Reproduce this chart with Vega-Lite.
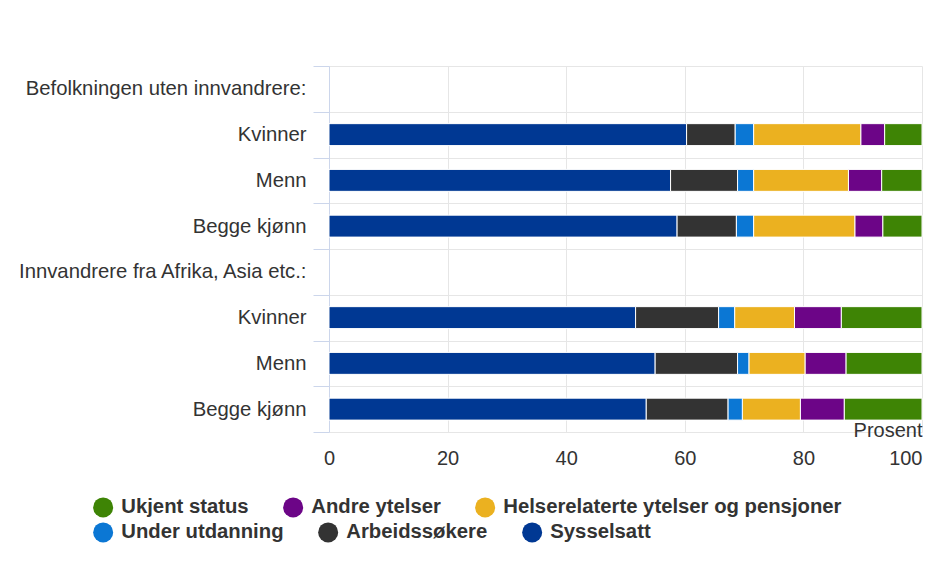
{
  "$schema": "https://vega.github.io/schema/vega-lite/v6.json",
  "autosize": {"type": "none"},
  "padding": {"left": 329, "top": 66, "right": 16, "bottom": 130},
  "width": 593,
  "height": 366,
  "config": {
    "view": {"stroke": null},
    "font": "Liberation Sans",
    "legend": {
      "orient": "none",
      "direction": "horizontal",
      "title": null,
      "columnPadding": 34,
      "padding": 0,
      "symbolType": "circle",
      "symbolSize": 400,
      "symbolStrokeWidth": 0,
      "symbolOpacity": 1,
      "labelFontSize": 20.3,
      "labelFontWeight": "bold",
      "labelColor": "#333333",
      "labelOffset": 8,
      "labelLimit": 500
    }
  },
  "data": {
    "values": [
      {"rad": "2|Kvinner", "status": "Sysselsatt", "rekke": 1, "verdi": 60.3},
      {"rad": "2|Kvinner", "status": "Arbeidssøkere", "rekke": 2, "verdi": 8.2},
      {"rad": "2|Kvinner", "status": "Under utdanning", "rekke": 3, "verdi": 3.1},
      {"rad": "2|Kvinner", "status": "Helserelaterte ytelser og pensjoner", "rekke": 4, "verdi": 18.1},
      {"rad": "2|Kvinner", "status": "Andre ytelser", "rekke": 5, "verdi": 4.0},
      {"rad": "2|Kvinner", "status": "Ukjent status", "rekke": 6, "verdi": 6.3},
      {"rad": "3|Menn", "status": "Sysselsatt", "rekke": 1, "verdi": 57.6},
      {"rad": "3|Menn", "status": "Arbeidssøkere", "rekke": 2, "verdi": 11.3},
      {"rad": "3|Menn", "status": "Under utdanning", "rekke": 3, "verdi": 2.7},
      {"rad": "3|Menn", "status": "Helserelaterte ytelser og pensjoner", "rekke": 4, "verdi": 16.0},
      {"rad": "3|Menn", "status": "Andre ytelser", "rekke": 5, "verdi": 5.6},
      {"rad": "3|Menn", "status": "Ukjent status", "rekke": 6, "verdi": 6.8},
      {"rad": "4|Begge kjønn", "status": "Sysselsatt", "rekke": 1, "verdi": 58.7},
      {"rad": "4|Begge kjønn", "status": "Arbeidssøkere", "rekke": 2, "verdi": 10.0},
      {"rad": "4|Begge kjønn", "status": "Under utdanning", "rekke": 3, "verdi": 2.9},
      {"rad": "4|Begge kjønn", "status": "Helserelaterte ytelser og pensjoner", "rekke": 4, "verdi": 17.1},
      {"rad": "4|Begge kjønn", "status": "Andre ytelser", "rekke": 5, "verdi": 4.7},
      {"rad": "4|Begge kjønn", "status": "Ukjent status", "rekke": 6, "verdi": 6.6},
      {"rad": "6|Kvinner", "status": "Sysselsatt", "rekke": 1, "verdi": 51.7},
      {"rad": "6|Kvinner", "status": "Arbeidssøkere", "rekke": 2, "verdi": 14.0},
      {"rad": "6|Kvinner", "status": "Under utdanning", "rekke": 3, "verdi": 2.7},
      {"rad": "6|Kvinner", "status": "Helserelaterte ytelser og pensjoner", "rekke": 4, "verdi": 10.1},
      {"rad": "6|Kvinner", "status": "Andre ytelser", "rekke": 5, "verdi": 7.9},
      {"rad": "6|Kvinner", "status": "Ukjent status", "rekke": 6, "verdi": 13.6},
      {"rad": "7|Menn", "status": "Sysselsatt", "rekke": 1, "verdi": 55.0},
      {"rad": "7|Menn", "status": "Arbeidssøkere", "rekke": 2, "verdi": 13.9},
      {"rad": "7|Menn", "status": "Under utdanning", "rekke": 3, "verdi": 1.9},
      {"rad": "7|Menn", "status": "Helserelaterte ytelser og pensjoner", "rekke": 4, "verdi": 9.5},
      {"rad": "7|Menn", "status": "Andre ytelser", "rekke": 5, "verdi": 6.9},
      {"rad": "7|Menn", "status": "Ukjent status", "rekke": 6, "verdi": 12.8},
      {"rad": "8|Begge kjønn", "status": "Sysselsatt", "rekke": 1, "verdi": 53.5},
      {"rad": "8|Begge kjønn", "status": "Arbeidssøkere", "rekke": 2, "verdi": 13.8},
      {"rad": "8|Begge kjønn", "status": "Under utdanning", "rekke": 3, "verdi": 2.4},
      {"rad": "8|Begge kjønn", "status": "Helserelaterte ytelser og pensjoner", "rekke": 4, "verdi": 9.8},
      {"rad": "8|Begge kjønn", "status": "Andre ytelser", "rekke": 5, "verdi": 7.4},
      {"rad": "8|Begge kjønn", "status": "Ukjent status", "rekke": 6, "verdi": 13.1}
    ]
  },
  "transform": [
    {"stack": "verdi", "groupby": ["rad"], "sort": [{"field": "rekke", "order": "ascending"}], "as": ["x0", "x1"]}
  ],
  "encoding": {
    "y": {
      "field": "rad",
      "type": "nominal",
      "scale": {
        "domain": ["1|Befolkningen uten innvandrere:", "2|Kvinner", "3|Menn", "4|Begge kjønn", "5|Innvandrere fra Afrika, Asia etc.:", "6|Kvinner", "7|Menn", "8|Begge kjønn"],
        "paddingInner": 0,
        "paddingOuter": 0
      },
      "axis": {
        "title": null,
        "labelExpr": "split(datum.value, '|')[1]",
        "labelFontSize": 20.3,
        "labelColor": "#333333",
        "labelPadding": 7,
        "labelLimit": 400,
        "tickBand": "extent",
        "tickSize": 16,
        "tickColor": "#ccd6eb",
        "domainColor": "#ccd6eb",
        "grid": true,
        "gridColor": "#e6e6e6"
      }
    },
    "x": {
      "field": "x0",
      "type": "quantitative",
      "scale": {"domain": [0, 100], "nice": false},
      "axis": {
        "values": [0, 20, 40, 60, 80, 100],
        "grid": true,
        "gridColor": "#e6e6e6",
        "domain": false,
        "ticks": false,
        "labelFontSize": 20,
        "labelColor": "#333333",
        "labelPadding": 16,
        "labelAlign": {"condition": {"test": "datum.value === 100", "value": "right"}, "value": "center"},
        "title": "Prosent",
        "titleFontSize": 20,
        "titleFontWeight": "normal",
        "titleColor": "#333333",
        "titleAnchor": "end",
        "titleAlign": "right",
        "titleX": 593,
        "titleY": 4,
        "titleBaseline": "alphabetic"
      }
    },
    "x2": {"field": "x1"}
  },
  "layer": [
    {
      "transform": [{"filter": "datum.rekke >= 4"}],
      "mark": {"type": "bar", "stroke": "white", "strokeWidth": 1, "height": {"band": 0.48}},
      "encoding": {
        "color": {
          "field": "status",
          "type": "nominal",
          "scale": {
            "domain": ["Ukjent status", "Andre ytelser", "Helserelaterte ytelser og pensjoner"],
            "range": ["#3e8405", "#6c0587", "#ebb120"]
          },
          "legend": {"legendX": -236, "legendY": 431}
        }
      }
    },
    {
      "transform": [{"filter": "datum.rekke <= 3"}],
      "mark": {"type": "bar", "stroke": "white", "strokeWidth": 1, "height": {"band": 0.48}},
      "encoding": {
        "color": {
          "field": "status",
          "type": "nominal",
          "scale": {
            "domain": ["Under utdanning", "Arbeidssøkere", "Sysselsatt"],
            "range": ["#0b77d4", "#333333", "#003893"]
          },
          "legend": {"legendX": -236, "legendY": 456}
        }
      }
    }
  ],
  "resolve": {"scale": {"color": "independent"}, "legend": {"color": "independent"}}
}
